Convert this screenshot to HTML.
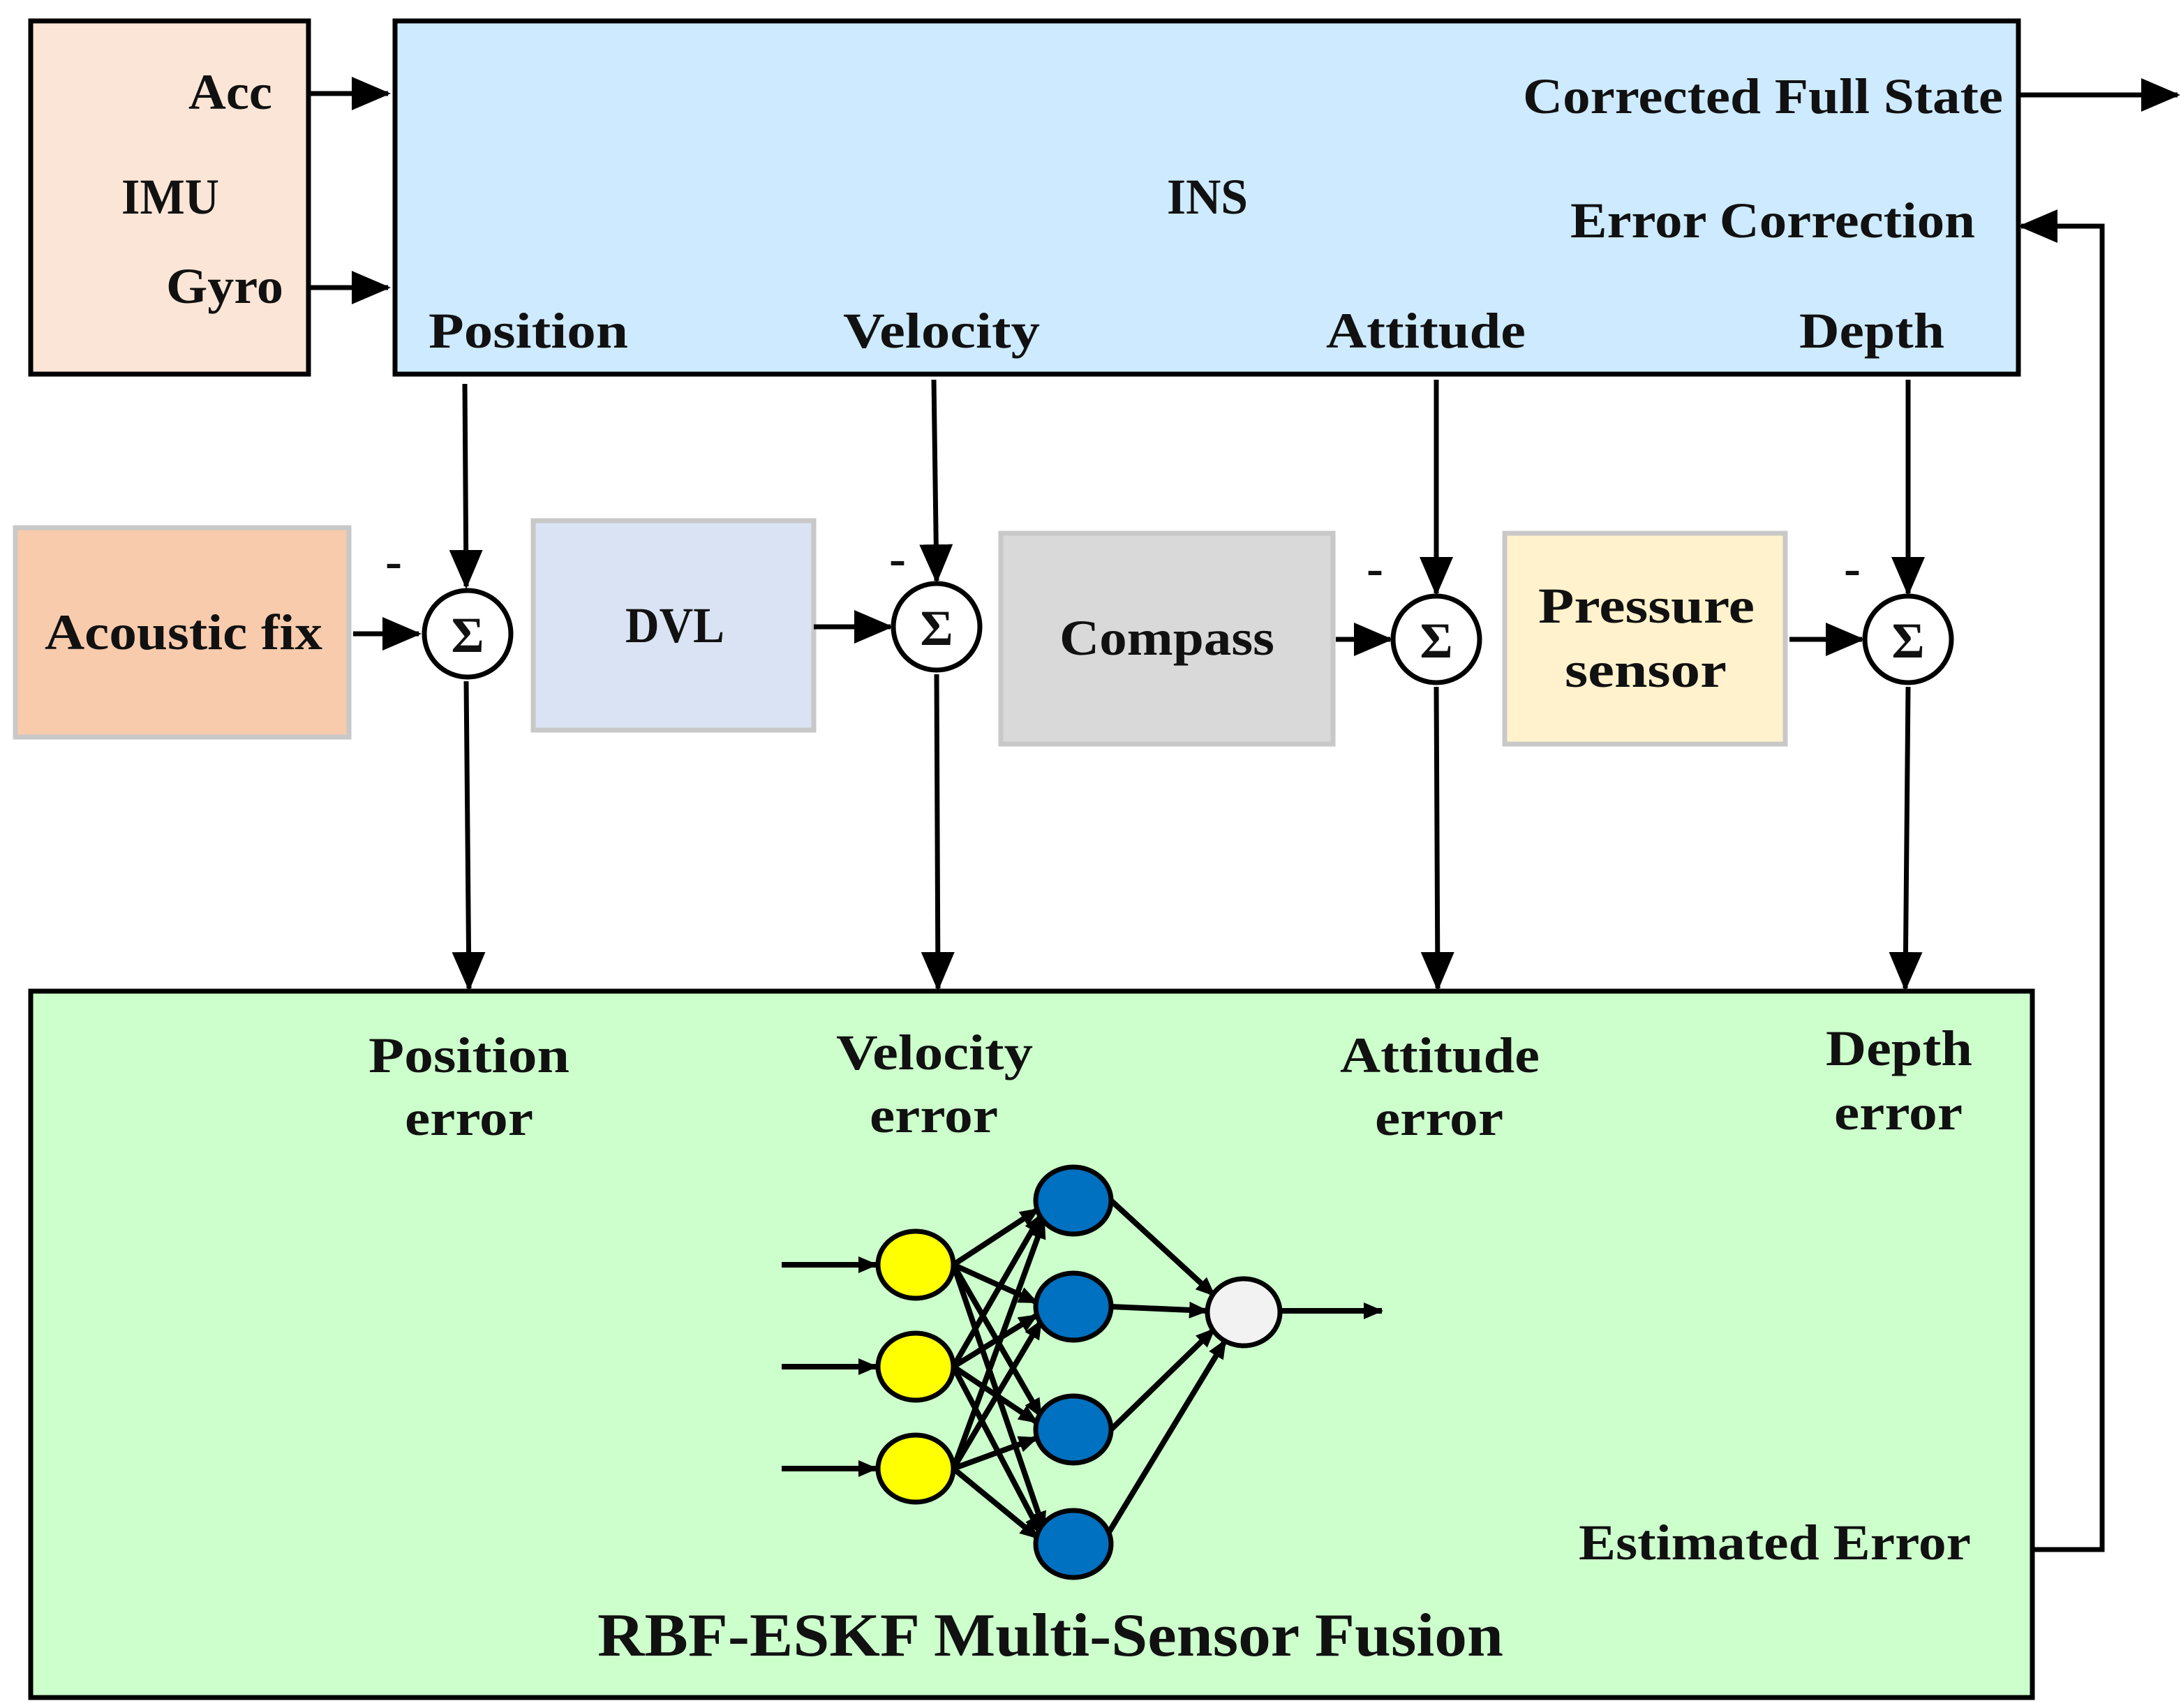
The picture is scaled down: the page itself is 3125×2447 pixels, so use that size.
<!DOCTYPE html>
<html><head><meta charset="utf-8"><style>
html,body{margin:0;padding:0;background:#fff}
svg{display:block}
text{font-family:"Liberation Serif",serif;font-weight:bold;fill:#111}
</style></head><body>
<svg width="3125" height="2447" viewBox="0 0 1562.5 1223.5" xmlns="http://www.w3.org/2000/svg">
<defs>
<marker id="A" markerWidth="28" markerHeight="28" refX="26" refY="14" orient="auto" markerUnits="userSpaceOnUse" viewBox="0 0 28 28"><path d="M0,2 L28,14 L0,26 z" fill="#000"/></marker>
<marker id="s" markerWidth="14" markerHeight="14" refX="13" refY="7" orient="auto" markerUnits="userSpaceOnUse" viewBox="0 0 14 14"><path d="M0,1 L14,7 L0,13 z" fill="#000"/></marker>
</defs>
<g stroke="#000" stroke-width="3.5" fill="none">
<rect x="22" y="15" width="199" height="253" fill="#fbe5d6"/>
<rect x="283" y="15" width="1163" height="253" fill="#cdeafe"/>
<rect x="22" y="710" width="1434" height="506" fill="#ccffcc"/>
</g>
<g stroke="#c8c8c8" stroke-width="3.5">
<rect x="11" y="378" width="239" height="150" fill="#f8cbad"/>
<rect x="382" y="373" width="201" height="150" fill="#dae3f3"/>
<rect x="717" y="382" width="238" height="151" fill="#d9d9d9"/>
<rect x="1078" y="382" width="201" height="151" fill="#fff2cc"/>
</g>
<g stroke="#000" stroke-width="3.5" fill="none" marker-end="url(#A)">
<line x1="222" y1="67" x2="278" y2="67"/>
<line x1="222" y1="206" x2="278" y2="206"/>
<line x1="1446" y1="68" x2="1560" y2="68"/>
<polyline points="1456,1110 1506,1110 1506,162 1448,162"/>
<line x1="333" y1="275" x2="334" y2="420"/>
<line x1="669" y1="272" x2="671" y2="416"/>
<line x1="1029" y1="272" x2="1029" y2="425"/>
<line x1="1367" y1="272" x2="1367" y2="425"/>
<line x1="253" y1="454" x2="300" y2="454"/>
<line x1="583" y1="449" x2="638" y2="449"/>
<line x1="957" y1="458" x2="996" y2="458"/>
<line x1="1282" y1="458" x2="1334" y2="458"/>
<line x1="334" y1="488" x2="336" y2="708"/>
<line x1="671" y1="483" x2="672" y2="708"/>
<line x1="1029" y1="492" x2="1030" y2="708"/>
<line x1="1367" y1="492" x2="1365" y2="708"/>
</g>
<g stroke="#000" stroke-width="3.5" fill="#fff">
<circle cx="335" cy="454" r="31"/>
<circle cx="671" cy="449" r="31"/>
<circle cx="1029" cy="458" r="31"/>
<circle cx="1367" cy="458" r="31"/>
</g>
<g font-size="36" text-anchor="middle">
<text x="335" y="467">Σ</text><text x="671" y="462">Σ</text><text x="1029" y="471">Σ</text><text x="1367" y="471">Σ</text>
</g>
<g font-size="36" text-anchor="middle">
<text x="282" y="414">-</text><text x="643" y="412">-</text><text x="985" y="419">-</text><text x="1327" y="419">-</text>
</g>
<g font-size="36" lengthAdjust="spacingAndGlyphs">
<text x="135" y="78" textLength="60" lengthAdjust="spacingAndGlyphs">Acc</text>
<text x="87" y="153" textLength="70" lengthAdjust="spacingAndGlyphs">IMU</text>
<text x="119" y="217" textLength="84" lengthAdjust="spacingAndGlyphs">Gyro</text>
<text x="836" y="153" textLength="58" lengthAdjust="spacingAndGlyphs">INS</text>
<text x="1091" y="81" textLength="344" lengthAdjust="spacingAndGlyphs">Corrected Full State</text>
<text x="1125" y="170" textLength="290" lengthAdjust="spacingAndGlyphs">Error Correction</text>
<text x="307" y="249" textLength="143" lengthAdjust="spacingAndGlyphs">Position</text>
<text x="604" y="249" textLength="141" lengthAdjust="spacingAndGlyphs">Velocity</text>
<text x="950" y="249" textLength="143" lengthAdjust="spacingAndGlyphs">Attitude</text>
<text x="1289" y="249" textLength="104" lengthAdjust="spacingAndGlyphs">Depth</text>
<text x="32" y="465" textLength="199" lengthAdjust="spacingAndGlyphs">Acoustic fix</text>
<text x="448" y="460" textLength="71" lengthAdjust="spacingAndGlyphs">DVL</text>
<text x="759" y="469" textLength="154" lengthAdjust="spacingAndGlyphs">Compass</text>
<text x="1102" y="446" textLength="155" lengthAdjust="spacingAndGlyphs">Pressure</text>
<text x="1121" y="492" textLength="116" lengthAdjust="spacingAndGlyphs">sensor</text>
<text x="264" y="768" textLength="144" lengthAdjust="spacingAndGlyphs">Position</text><text x="290" y="813" textLength="92" lengthAdjust="spacingAndGlyphs">error</text>
<text x="599" y="766" textLength="141" lengthAdjust="spacingAndGlyphs">Velocity</text><text x="623" y="811" textLength="92" lengthAdjust="spacingAndGlyphs">error</text>
<text x="960" y="768" textLength="143" lengthAdjust="spacingAndGlyphs">Attitude</text><text x="985" y="813" textLength="92" lengthAdjust="spacingAndGlyphs">error</text>
<text x="1308" y="763" textLength="105" lengthAdjust="spacingAndGlyphs">Depth</text><text x="1314" y="809" textLength="92" lengthAdjust="spacingAndGlyphs">error</text>
<text x="1131" y="1117" textLength="281" lengthAdjust="spacingAndGlyphs">Estimated Error</text>
<text x="428" y="1186" font-size="44" textLength="649" lengthAdjust="spacingAndGlyphs">RBF-ESKF Multi-Sensor Fusion</text>
</g>
<g stroke="#000" stroke-width="4" marker-end="url(#s)">
<line x1="560" y1="906" x2="628" y2="906"/><line x1="560" y1="979" x2="628" y2="979"/><line x1="560" y1="1052" x2="628" y2="1052"/>
<line x1="918" y1="939" x2="990" y2="939"/>
<line x1="683" y1="906" x2="744" y2="866"/><line x1="683" y1="906" x2="743" y2="933"/><line x1="683" y1="906" x2="746" y2="1015"/><line x1="683" y1="906" x2="748" y2="1096"/>
<line x1="683" y1="979" x2="746" y2="870"/><line x1="683" y1="979" x2="743" y2="942"/><line x1="683" y1="979" x2="743" y2="1019"/><line x1="683" y1="979" x2="746" y2="1099"/>
<line x1="683" y1="1052" x2="748" y2="874"/><line x1="683" y1="1052" x2="746" y2="946"/><line x1="683" y1="1052" x2="743" y2="1030"/><line x1="683" y1="1052" x2="744" y2="1102"/>
<line x1="796" y1="860" x2="870" y2="928"/><line x1="796" y1="936" x2="865" y2="939"/><line x1="796" y1="1024" x2="870" y2="952"/><line x1="793" y1="1100" x2="878" y2="960"/>
</g>
<g stroke="#000" stroke-width="3.5">
<ellipse cx="656" cy="906" rx="27" ry="24" fill="#ffff00"/>
<ellipse cx="656" cy="979" rx="27" ry="24" fill="#ffff00"/>
<ellipse cx="656" cy="1052" rx="27" ry="24" fill="#ffff00"/>
<ellipse cx="769" cy="860" rx="27" ry="24" fill="#0070c0"/>
<ellipse cx="769" cy="936" rx="27" ry="24" fill="#0070c0"/>
<ellipse cx="769" cy="1024" rx="27" ry="24" fill="#0070c0"/>
<ellipse cx="769" cy="1106" rx="27" ry="24" fill="#0070c0"/>
<ellipse cx="891" cy="940" rx="26" ry="24" fill="#f2f2f2"/>
</g>
</svg>
</body></html>
